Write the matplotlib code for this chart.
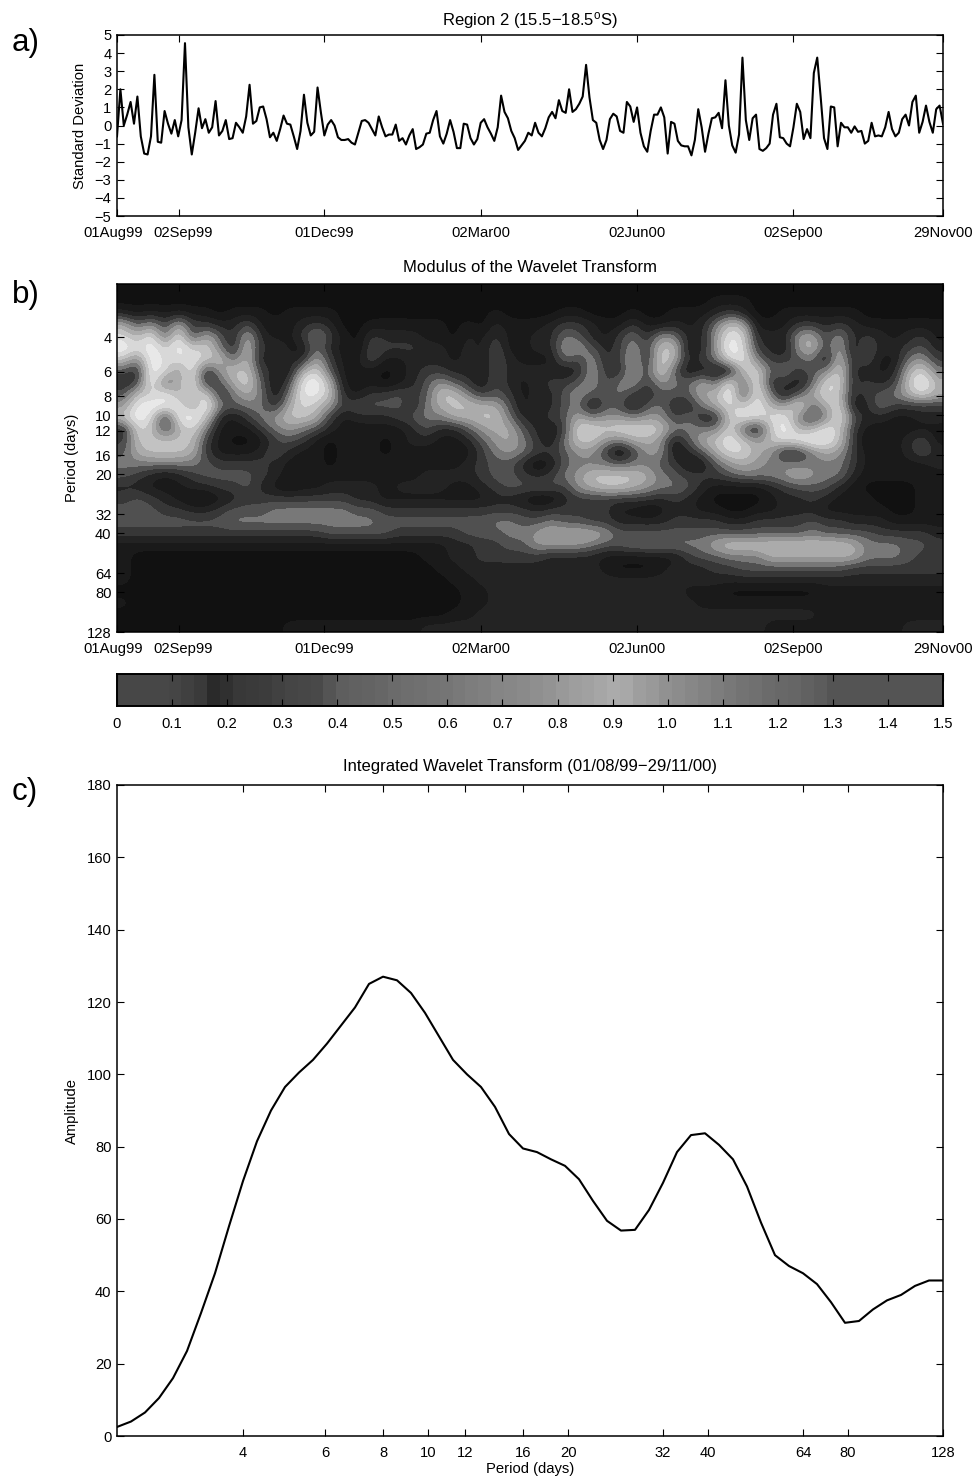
import numpy as np
import matplotlib
matplotlib.use('Agg')
import matplotlib.pyplot as plt
from matplotlib.colors import ListedColormap, BoundaryNorm
from matplotlib.transforms import ScaledTranslation

plt.rcParams['font.family'] = ['Liberation Sans', 'DejaVu Sans']
plt.rcParams['mathtext.default'] = 'regular'
plt.rcParams['font.size'] = 10.6
plt.rcParams['axes.linewidth'] = 1.1

# tick places are in days after 01Aug99
date_ticks = [0, 36.5, 122, 214, 306, 398, 486]
date_labels = ['01Aug99', '02Sep99', '01Dec99', '02Mar00', '02Jun00', '02Sep00', '29Nov00']
period_ticks = [4, 6, 8, 10, 12, 16, 20, 32, 40, 64, 80, 128]

# a) standard deviation, one value every 2 days
std_dev = [
    -0.6, 2.0, 0.0, 0.6, 1.3, 0.1, 1.6, -0.6, -1.55, -1.6, -0.6, 2.8, -0.9, -0.95, 0.8, 0.1, -0.45, 0.3, -0.6, 0.3,
    4.55, -0.1, -1.6, -0.4, 0.95, -0.15, 0.35, -0.4, -0.1, 1.35, -0.55, -0.3, 0.3, -0.75, -0.7, 0.15, -0.1, -0.4, 0.5, 2.25,
    0.1, 0.25, 1.0, 1.05, 0.35, -0.65, -0.4, -0.85, -0.2, 0.55, 0.1, 0.05, -0.6, -1.3, -0.3, 1.7, 0.15, -0.55, -0.35, 2.1,
    0.7, -0.55, 0.05, 0.3, 0.0, -0.65, -0.8, -0.8, -0.75, -0.95, -1.05, -0.4, 0.25, 0.3, 0.15, -0.2, -0.55, 0.5, -0.1, -0.6,
    -0.5, -0.5, 0.05, -0.85, -0.7, -1.05, -0.55, -0.2, -1.3, -1.2, -1.05, -0.45, -0.4, 0.3, 0.8, -0.6, -1.0, -0.45, 0.3, -0.35,
    -1.25, -1.25, 0.1, 0.05, -0.7, -1.05, -0.75, 0.15, 0.35, -0.1, -0.45, -0.85, -0.1, 1.65, 0.75, 0.4, -0.3, -0.7, -1.35, -1.1,
    -0.85, -0.4, -0.55, 0.15, -0.4, -0.6, -0.15, 0.45, 0.75, 0.4, 1.4, 0.8, 0.7, 2.0, 0.75, 0.9, 1.2, 1.6, 3.35, 1.55,
    0.3, 0.15, -0.8, -1.3, -0.8, 0.35, 0.65, 0.5, -0.3, -0.4, 1.3, 1.05, 0.2, 1.0, -0.4, -1.15, -1.45, -0.3, 0.6, 0.6,
    1.0, 0.45, -1.55, 0.2, 0.1, -0.85, -1.1, -1.15, -1.15, -1.65, -0.8, 0.9, -0.1, -1.45, -0.45, 0.4, 0.45, 0.7, -0.15, 2.5,
    0.0, -1.1, -1.5, -0.5, 3.75, 0.3, -0.8, 0.4, 0.6, -1.3, -1.4, -1.25, -1.0, 0.6, 1.2, -0.65, -0.7, -1.0, -1.15, -0.1,
    1.2, 0.75, -0.75, -0.2, -0.7, 2.9, 3.75, 1.6, -0.7, -1.3, 1.05, 1.0, -1.15, 0.15, -0.1, -0.1, -0.4, -0.05, -0.35, -0.3,
    -1.0, -0.85, 0.15, -0.6, -0.55, -0.6, -0.1, 0.75, -0.2, -0.6, -0.4, 0.35, 0.6, 0.0, 1.3, 1.65, -0.4, 0.2, 1.1, 0.2,
    -0.4, 0.9, 1.1, 0.1,
]

# b) modulus read off as contour band numbers, rows go from short to long period
modulus = [
    [0,0,0,0,0,0,0,0,0,0, 0,0,0,0,0,0,0,0,0,0, 0,0,0,0,0,0,0,0,0,0, 0,0,0,0,0,0,0,0,0,0, 0,0,0,0,0,0,0,0,0,0, 0,0,0,0,0,0,0,0,0,0],
    [0,0,0,0,0,0,0,0,0,0, 0,0,0,0,0,0,0,0,0,0, 0,0,0,0,0,0,0,0,0,0, 0,0,0,0,0,0,0,0,0,0, 0,0,0,1,1,1,0,0,0,0, 0,0,0,0,0,0,0,0,0,0],
    [2,1,2,1,2,1,1,0,1,1, 1,0,1,1,1,1,0,0,0,0, 0,0,0,0,0,0,0,1,0,0, 0,0,1,1,0,0,0,1,0,0, 1,1,1,2,3,2,0,0,1,1, 1,1,1,1,0,0,0,0,0,0],
    [7,4,6,3,7,3,3,2,2,4, 1,1,1,2,3,2,0,0,1,1, 1,1,1,1,0,1,0,2,1,1, 1,2,3,3,2,1,1,3,1,1, 2,1,2,5,8,7,1,1,1,3, 3,2,3,2,1,1,1,1,1,1],
    [9,7,10,4,10,3,7,4,2,7, 2,1,1,3,6,3,1,0,3,2, 2,2,1,1,0,2,1,3,1,1, 2,2,5,4,2,1,3,5,2,6, 5,2,2,6,10,9,2,2,2,6, 7,3,6,2,3,2,1,2,3,1],
    [11,9,11,8,11,8,9,5,2,8, 2,3,1,1,5,2,1,0,4,3, 3,3,2,2,1,2,1,4,1,1, 2,2,6,6,4,2,3,6,3,8, 8,1,2,6,11,9,3,2,1,6, 8,3,7,1,4,2,2,3,4,2],
    [8,5,11,9,9,10,8,8,4,8, 1,3,2,2,7,3,1,1,4,1, 1,2,2,2,1,2,1,4,2,1, 1,1,5,3,6,2,3,7,2,9, 7,2,3,5,9,10,5,3,3,4, 5,1,8,2,4,1,1,5,6,3],
    [4,2,11,9,6,10,2,6,8,8, 3,2,1,7,9,4,1,1,1,0, 1,2,3,3,2,2,1,4,2,2, 2,2,1,2,6,3,2,7,3,9, 4,1,2,1,1,8,9,4,5,3, 4,5,9,2,2,1,2,7,9,5],
    [2,3,11,4,7,10,2,4,7,9, 4,1,3,10,11,7,1,1,1,0, 1,2,4,6,4,3,1,4,2,1, 2,3,3,4,6,3,5,6,3,6, 5,4,7,4,10,4,10,2,3,1, 4,9,9,2,3,2,3,8,11,7],
    [4,8,8,10,7,8,9,2,5,7, 5,1,5,10,10,8,2,1,3,3, 4,3,4,8,8,5,3,4,3,1, 2,2,4,6,4,4,5,3,2,4, 4,4,7,7,11,3,10,5,1,4, 7,9,8,2,3,4,5,7,9,7],
    [6,10,11,10,10,6,11,5,4,5, 5,2,7,9,8,6,3,4,4,4, 4,2,5,7,8,8,7,7,4,1, 2,2,4,5,1,4,4,1,4,5, 2,2,5,7,9,8,10,7,6,10, 4,7,9,1,2,5,3,3,3,3],
    [8,11,9,2,10,11,8,2,1,3, 5,6,8,8,7,3,1,2,2,2, 3,4,5,5,7,7,8,8,5,2, 2,3,4,7,5,6,6,5,6,6, 3,5,2,2,8,10,9,9,10,5, 3,5,10,4,2,2,1,1,2,2],
    [2,9,8,3,7,9,5,1,1,1, 3,5,6,5,4,2,1,1,1,1, 1,2,4,2,2,4,6,7,7,4, 2,1,3,9,9,8,9,9,9,8, 5,5,5,5,9,4,1,8,11,7, 7,10,8,3,1,1,1,1,1,1],
    [3,8,8,8,8,8,3,1,0,0, 1,3,4,3,1,0,1,1,1,0, 1,2,2,1,1,2,4,6,7,5, 3,1,5,8,8,6,5,7,7,6, 1,4,7,8,10,8,6,8,9,10, 11,10,8,3,0,1,1,2,4,1],
    [4,7,8,8,8,7,3,1,1,1, 2,4,2,1,1,0,1,1,1,0, 1,1,1,1,0,1,3,5,6,5, 3,3,4,6,6,3,0,3,6,6, 1,2,4,7,9,9,7,6,2,2, 5,7,6,3,1,1,1,2,4,2],
    [5,5,5,5,5,5,4,3,3,3, 3,2,1,1,1,0,1,1,1,1, 1,1,1,1,1,2,3,4,4,2, 0,1,4,5,5,5,4,5,5,4, 3,1,1,4,6,7,6,5,5,5, 5,5,5,3,1,1,1,1,1,2],
    [4,3,2,1,2,3,4,4,4,4, 3,2,1,1,1,1,1,1,1,1, 1,1,2,2,2,2,3,4,4,3, 2,3,5,6,8,8,8,8,7,5, 4,3,3,3,4,5,5,5,6,7, 6,5,5,2,1,1,1,1,1,1],
    [2,2,1,1,1,2,2,3,3,4, 2,1,0,1,1,2,2,2,2,1, 2,2,2,2,1,1,2,3,4,4, 4,4,3,6,7,8,8,7,6,5, 5,4,2,1,1,1,1,2,3,4, 4,4,2,1,0,0,0,0,1,1],
    [3,4,3,2,1,0,0,1,2,3, 3,3,3,3,3,3,3,2,2,1, 1,1,1,1,1,1,1,2,2,1, 0,0,2,3,3,3,3,3,3,2, 3,2,1,0,0,0,0,1,2,2, 3,2,1,1,1,0,0,0,1,1],
    [4,4,4,3,3,2,2,3,4,4, 4,5,5,5,5,5,5,4,4,3, 3,3,3,3,3,3,3,3,3,3, 2,3,3,3,3,3,1,1,0,1, 2,2,1,1,0,0,1,1,2,2, 2,1,1,1,1,1,0,0,1,1],
    [4,4,4,4,4,4,4,4,5,5, 5,5,5,5,5,5,5,5,5,4, 4,4,4,4,4,4,4,5,5,4, 4,5,4,4,3,3,2,2,2,2, 3,3,3,3,2,2,3,3,3,3, 4,3,3,2,2,2,1,1,1,1],
    [3,3,3,3,3,3,3,3,3,3, 3,3,3,3,3,4,4,4,4,4, 3,3,3,3,3,4,4,4,5,5, 6,7,7,7,7,6,4,4,4,4, 4,4,4,4,4,4,4,4,4,4, 5,4,4,4,4,3,3,3,3,2],
    [1,1,1,1,1,1,1,1,1,1, 1,1,1,1,1,1,1,1,1,1, 1,1,1,1,2,2,3,3,4,4, 6,6,6,6,5,4,4,5,5,5, 5,5,5,7,8,8,8,8,8,8, 8,8,8,7,5,5,5,4,4,3],
    [1,0,0,0,0,0,0,0,0,0, 0,0,0,0,0,0,0,0,0,0, 0,0,1,1,2,2,3,3,3,3, 3,2,2,2,2,1,1,1,1,1, 1,3,4,4,5,5,5,7,7,7, 7,7,7,7,5,5,5,4,3,3],
    [1,0,0,0,0,0,0,0,0,0, 0,0,0,0,0,0,0,0,0,0, 0,0,0,1,1,2,2,2,2,2, 2,2,2,2,2,1,0,0,0,1, 2,2,2,3,3,4,4,4,4,4, 4,4,4,3,3,3,3,3,3,3],
    [1,0,1,0,0,0,0,0,0,0, 0,0,0,0,0,0,0,0,0,0, 0,0,0,0,1,1,2,2,2,2, 2,2,2,2,2,2,2,2,2,2, 2,2,2,2,2,2,2,2,2,2, 2,2,2,2,2,2,2,2,2,2],
    [0,0,0,0,0,0,0,0,0,0, 0,0,0,0,0,0,0,0,0,0, 0,0,0,0,0,1,1,2,2,2, 2,2,2,2,2,2,2,2,2,2, 2,1,1,1,0,0,0,0,0,0, 0,1,1,1,1,1,1,1,1,1],
    [1,0,0,0,0,0,0,0,0,0, 0,0,0,0,0,0,0,0,0,0, 0,0,0,0,0,1,1,2,2,2, 2,2,2,2,2,2,2,2,2,2, 2,2,1,1,1,1,1,1,1,1, 1,1,1,1,1,1,1,1,1,1],
    [0,0,0,0,0,0,0,0,0,0, 0,0,0,0,0,0,0,0,0,0, 0,0,0,0,1,1,2,2,2,2, 2,2,2,2,2,2,2,2,2,2, 2,2,2,2,2,2,2,2,2,2, 2,1,1,1,1,1,1,1,1,1],
    [0,0,0,0,0,0,0,0,0,0, 0,0,1,1,1,1,1,1,1,1, 1,1,2,2,2,2,2,2,2,2, 2,2,2,2,2,2,2,2,2,2, 2,2,2,2,2,2,2,1,1,1, 1,1,1,1,1,1,1,2,2,2],
]
band_grays = ['#111111', '#1a1a1a', '#232323', '#373737', '#505050', '#787878',
              '#959595', '#ababab', '#c2c2c2', '#d8d8d8', '#e8e8e8', '#f6f6f6']

# colorbar strip, from 0 to 1.5
cbar_grays = [
    0.28, 0.28, 0.28, 0.28, 0.27, 0.25, 0.23, 0.165, 0.19, 0.22, 0.23, 0.24, 0.26, 0.27, 0.28, 0.29,
    0.33, 0.37, 0.38, 0.39, 0.40, 0.42, 0.43, 0.44, 0.45, 0.46, 0.48, 0.49, 0.50, 0.52, 0.53, 0.54,
    0.56, 0.58, 0.60, 0.62, 0.63, 0.65, 0.67, 0.66, 0.62, 0.60, 0.57, 0.55, 0.53, 0.51, 0.49, 0.47,
    0.45, 0.44, 0.42, 0.41, 0.40, 0.38, 0.36, 0.33, 0.33, 0.33, 0.33, 0.33, 0.33, 0.33, 0.33, 0.33,
]
cbar_ticks = [0, 0.1, 0.2, 0.3, 0.4, 0.5, 0.6, 0.7, 0.8, 0.9, 1.0, 1.1, 1.2, 1.3, 1.4, 1.5]
cbar_labels = ['0', '0.1', '0.2', '0.3', '0.4', '0.5', '0.6', '0.7', '0.8', '0.9', '1.0', '1.1', '1.2', '1.3', '1.4', '1.5']

# c) integrated transform, scales are 0.1 octave apart
amplitude = [
    2.5, 4, 6.5, 10.5, 16, 23.5, 34, 45, 58, 70.5, 81.5, 90, 96.5, 100.5, 104, 108.5, 113.5, 118.5, 125, 127,
    126, 122.5, 117, 110.5, 104, 100, 96.5, 91, 83.5, 79.5, 78.5, 76.5, 74.7, 71, 65, 59.5, 56.8, 57, 62.5, 70,
    78.5, 83.2, 83.7, 80.5, 76.5, 69, 59, 50, 47, 45, 42, 37, 31.3, 31.8, 35, 37.5, 39, 41.5, 43, 43,
]

W, H = 974.0, 1479.0


def make_axes(fig, x0, x1, y0, y1):
    # pixel box of the reference to figure fractions
    return fig.add_axes([x0 / W, 1 - y1 / H, (x1 - x0) / W, (y1 - y0) / H])


def box_ticks(ax):
    ax.tick_params(which='both', direction='in', top=True, right=True, length=5, width=0.8)
    ax.tick_params(axis='x', pad=7)
    ax.tick_params(axis='y', pad=4)


def spread_first_dates(ax):
    # the two leftmost date labels sit a little apart from their ticks
    labels = ax.get_xticklabels()
    for lab, dx in ((labels[0], -3.0), (labels[1], 3.0)):
        lab.set_transform(lab.get_transform() + ScaledTranslation(dx / 72, 0, fig.dpi_scale_trans))


fig = plt.figure(figsize=(9.74, 14.79), dpi=100)

# panel a
ax1 = make_axes(fig, 117, 943, 35, 216)
days = np.arange(len(std_dev)) * 2
ax1.plot(days, std_dev, color='k', lw=1.5)
ax1.set_xlim(0, 486)
ax1.set_ylim(-5, 5)
ax1.set_xticks(date_ticks)
ax1.set_xticklabels(date_labels)
ax1.set_yticks(range(-5, 6))
ax1.set_ylabel('Standard Deviation')
ax1.yaxis.set_label_coords(-30 / 826, 0.5)
ax1.set_title('Region 2 (15.5\u221218.5$^{o}$S)', fontsize=12, pad=7)
box_ticks(ax1)
spread_first_dates(ax1)

# panel b
ax2 = make_axes(fig, 117, 943, 284, 632)
band_cmap = ListedColormap(band_grays)
band_norm = BoundaryNorm(np.arange(-0.5, 12), band_cmap.N)
ax2.imshow(np.array(modulus, dtype=float), cmap=band_cmap, norm=band_norm, aspect='auto',
           extent=[0, 486, 7.0, 1.1], interpolation='bicubic', interpolation_stage='data')
ax2.set_xticks(date_ticks)
ax2.set_xticklabels(date_labels)
ax2.set_yticks(np.log2(period_ticks))
ax2.set_yticklabels([str(p) for p in period_ticks])
ax2.set_ylabel('Period (days)')
ax2.yaxis.set_label_coords(-38 / 826, 0.5)
ax2.set_title('Modulus of the Wavelet Transform', fontsize=12, pad=9)
box_ticks(ax2)
spread_first_dates(ax2)

# colorbar
ax3 = make_axes(fig, 117, 943, 674, 706)
ax3.imshow(np.array([cbar_grays]), cmap='gray', vmin=0, vmax=1, aspect='auto',
           extent=[0, 1.5, 0, 1], interpolation='nearest')
ax3.set_xticks(cbar_ticks)
ax3.set_xticklabels(cbar_labels)
ax3.set_yticks([])
ax3.tick_params(axis='x', direction='in', top=True, length=5, width=0.8, pad=8)
for s in ax3.spines.values():
    s.set_linewidth(1.4)

# panel c
ax4 = make_axes(fig, 117, 943, 785, 1436)
periods = 2.0 ** np.linspace(1.1, 7.0, len(amplitude))
ax4.plot(periods, amplitude, color='k', lw=1.5)
ax4.set_xscale('log', base=2)
ax4.set_xlim(2 ** 1.1, 128)
ax4.set_ylim(0, 180)
ax4.set_xticks(period_ticks)
ax4.set_xticklabels([str(p) for p in period_ticks])
ax4.minorticks_off()
ax4.set_yticks(range(0, 181, 20))
ax4.set_xlabel('Period (days)', labelpad=2)
ax4.set_ylabel('Amplitude')
ax4.yaxis.set_label_coords(-38 / 826, 0.5)
ax4.set_title('Integrated Wavelet Transform (01/08/99\u221229/11/00)', fontsize=12, pad=10)
box_ticks(ax4)

fig.text(12 / W, 1 - 43 / H, 'a)', fontsize=22.5, va='center')
fig.text(12 / W, 1 - 295 / H, 'b)', fontsize=22.5, va='center')
fig.text(12 / W, 1 - 792 / H, 'c)', fontsize=22.5, va='center')

fig.savefig('out.png', dpi=100)
